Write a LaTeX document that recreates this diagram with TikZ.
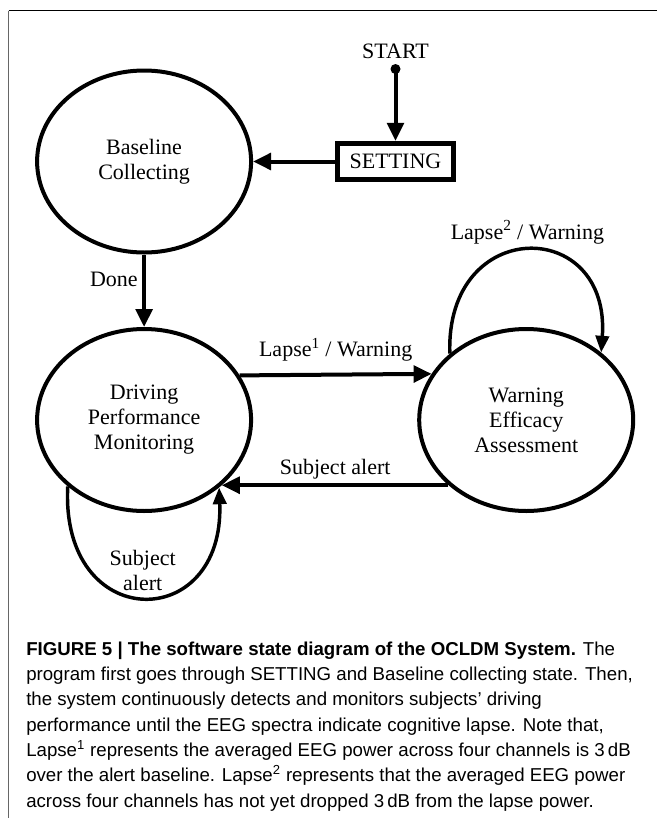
\documentclass[tikz,border=0pt]{standalone}
\usepackage{fontspec}
\setmainfont{Liberation Serif}
\newfontfamily\capfont{Liberation Sans}
\usepackage{tikz}
\usetikzlibrary{shapes.geometric, arrows.meta}

\begin{document}
\begin{tikzpicture}[x=0.75pt,y=0.75pt,yscale=-1,xscale=1,
  font=\fontsize{16.5}{18.75}\selectfont,
  state/.style={draw, ellipse, line width=3pt, minimum width=160.5pt,
    minimum height=136.5pt, align=center},
  arr/.style={line width=3pt, -{Triangle[length=13.5pt,width=12.5pt]}},
  looparr/.style={line width=2.6pt, -{Triangle[length=12.5pt,width=10pt]}}]
\useasboundingbox (0,0) rectangle (657,818);

%Straight Lines [id:frame]
\draw [line width=1pt] (8.5,10.5) -- (657,10.5) ;
\draw [line width=0.7pt, black!60] (8.5,10.5) -- (8.5,818) ;

%Shape: Ellipse [id:base]
\node (base) [state] at (144.1,161.5) {Baseline\\Collecting};
%Shape: Ellipse [id:drive]
\node (drive) [state] at (144.1,420) {Driving\\Performance\\Monitoring};
%Shape: Ellipse [id:warn]
\node (warn) [state] at (526.2,420) {Warning\\Efficacy\\Assessment};
%Shape: Rectangle [id:setting]
\node (setting) [draw, line width=3.6pt, minimum width=86.6pt,
  minimum height=27.4pt, inner sep=0pt] at (395.5,161.5) {SETTING};
%Shape: Circle [id:startdot]
\node (startdot) [circle, fill, inner sep=0pt, minimum size=7.5pt] at (395.5,69) {};
% Text Node
\node (startlbl) at (395.5,51) {START};

%Straight Lines [id:arrows]
\draw [arr] (startdot.center) -- (setting.north) ;
\draw [arr] (setting.west) -- (base.east) ;
\draw [arr] (base.south) -- node [pos=0.35, left] {Done} (drive.north) ;
\draw [arr] (drive.25) -- node [above=5pt] {Lapse\textsuperscript{1} / Warning} (warn.154) ;
\draw [arr] (warn.220) -- node [above] {Subject alert} (drive.-40) ;

%Curve Lines [id:loops]
\draw [looparr] (warn.139) .. controls (445,216) and (611,216) ..
  node [above] {Lapse\textsuperscript{2} / Warning} (warn.42) ;
\draw [looparr] (drive.221) .. controls (60,634) and (225,634) ..
  node [above, align=center] {Subject\\alert} (drive.-42) ;

% Text Node
\node (caption) [anchor=north west, inner sep=0pt, align=left,
  font=\capfont\fontsize{14}{19}\selectfont] at (26,641.4)
{\textbf{FIGURE 5 | The software state diagram of the OCLDM System.} The\\
program first goes through SETTING and Baseline collecting state. Then,\\
the system continuously detects and monitors subjects’ driving\\
performance until the EEG spectra indicate cognitive lapse. Note that,\\
Lapse\textsuperscript{1} represents the averaged EEG power across four channels is 3\,dB\\
over the alert baseline. Lapse\textsuperscript{2} represents that the averaged EEG power\\
across four channels has not yet dropped 3\,dB from the lapse power.};

\end{tikzpicture}
\end{document}
